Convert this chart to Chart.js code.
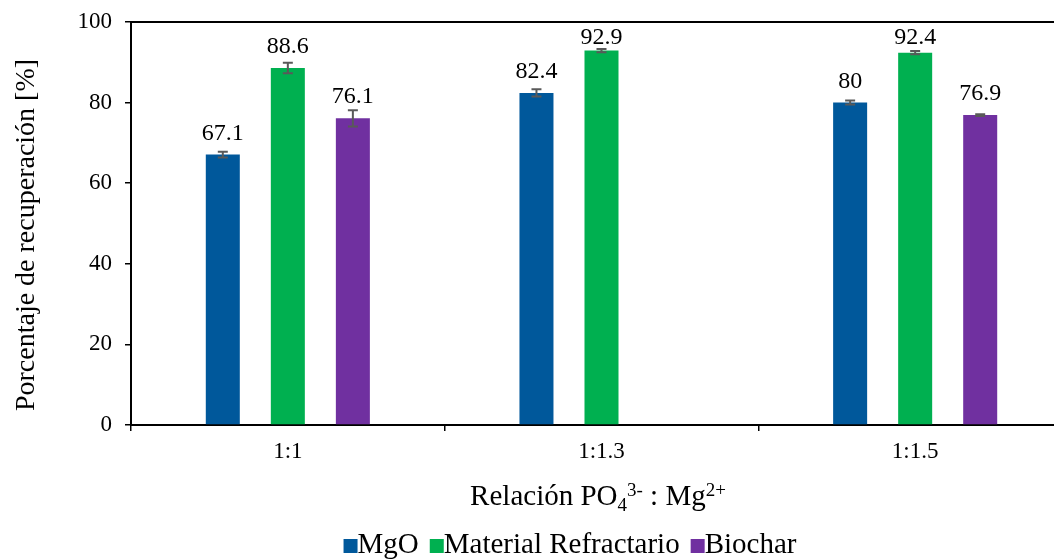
<!DOCTYPE html>
<html>
<head>
<meta charset="utf-8">
<script src="https://cdn.jsdelivr.net/npm/chart.js@4.4.1/dist/chart.umd.min.js"></script>
<style>
  html, body { margin: 0; padding: 0; background: #fff; }
  #wrap { width: 1054px; height: 559px; overflow: hidden; position: relative; }
  #c { display: block; }
</style>
</head>
<body>
<div id="wrap"><canvas id="c" width="1082" height="559"></canvas></div>
<script>
// Recovery percentage by PO4 : Mg molar ratio, three magnesium sources
const categories = ['1:1', '1:1.3', '1:1.5'];
const seriesNames = ['MgO', 'Material Refractario', 'Biochar'];
const mgo = [67.1, 82.4, 80];
const refractario = [88.6, 92.9, 92.4];
const biochar = [76.1, null, 76.9];
// standard deviations for the error bars
const mgoErr = [0.7, 0.9, 0.5];
const refractarioErr = [1.3, 0.4, 0.4];
const biocharErr = [2.0, null, 0.2];
const yTicks = [0, 20, 40, 60, 80, 100];

const colors = ['#00589B', '#00B050', '#7030A0'];
const errors = [mgoErr, refractarioErr, biocharErr];
const FONT = '"Liberation Serif", "Times New Roman", serif';

const decorations = {
  id: 'decorations',
  afterDatasetsDraw(chart) {
    const ctx = chart.ctx;
    const area = chart.chartArea;
    const y = chart.scales.y;

    // frame line along the top of the plot
    ctx.save();
    ctx.strokeStyle = '#000';
    ctx.lineWidth = 2;
    ctx.beginPath();
    ctx.moveTo(area.left, area.top);
    ctx.lineTo(area.right, area.top);
    ctx.stroke();
    ctx.restore();

    chart.data.datasets.forEach((ds, i) => {
      const meta = chart.getDatasetMeta(i);
      meta.data.forEach((bar, j) => {
        const v = ds.data[j];
        if (v === null || v === undefined) return;
        const e = errors[i][j];
        // error bar
        if (e) {
          const yt = y.getPixelForValue(v + e);
          const yb = y.getPixelForValue(v - e);
          ctx.save();
          ctx.strokeStyle = '#595959';
          ctx.lineWidth = 2;
          ctx.beginPath();
          ctx.moveTo(bar.x, yt); ctx.lineTo(bar.x, yb);
          ctx.moveTo(bar.x - 5, yt); ctx.lineTo(bar.x + 5, yt);
          ctx.moveTo(bar.x - 5, yb); ctx.lineTo(bar.x + 5, yb);
          ctx.stroke();
          ctx.restore();
        }
        // value label
        ctx.save();
        ctx.font = '24px ' + FONT;
        ctx.fillStyle = '#000';
        ctx.textAlign = 'center';
        ctx.textBaseline = 'alphabetic';
        const ly = Math.max(bar.y - 15, area.top + 22);
        ctx.fillText(String(v), bar.x, ly);
        ctx.restore();
      });
    });
  },
  afterDraw(chart) {
    const ctx = chart.ctx;
    ctx.save();
    ctx.fillStyle = '#000';

    // y axis title
    ctx.save();
    ctx.translate(34, 235);
    ctx.rotate(-Math.PI / 2);
    ctx.font = '28px ' + FONT;
    ctx.textAlign = 'center';
    ctx.textBaseline = 'alphabetic';
    ctx.fillText('Porcentaje de recuperación [%]', 0, 0);
    ctx.restore();

    // x axis title with sub/superscripts
    const parts = [
      { t: 'Relación PO', s: 29, dy: 0 },
      { t: '4', s: 19, dy: 6 },
      { t: '3-', s: 19, dy: -9 },
      { t: ' : Mg', s: 29, dy: 0 },
      { t: '2+', s: 19, dy: -9 }
    ];
    const widths = parts.map(p => {
      ctx.font = p.s + 'px ' + FONT;
      return ctx.measureText(p.t).width;
    });
    const total = widths.reduce((a, b) => a + b, 0);
    let x = 598 - total / 2;
    const base = 505;
    ctx.textBaseline = 'alphabetic';
    ctx.textAlign = 'left';
    parts.forEach((p, k) => {
      ctx.font = p.s + 'px ' + FONT;
      ctx.fillText(p.t, x, base + p.dy);
      x += widths[k];
    });

    // legend
    const lbase = 553;
    const sq = 14;
    const gap = 11;
    ctx.font = '29px ' + FONT;
    const tw = seriesNames.map(n => ctx.measureText(n).width);
    const lw = tw.reduce((a, b) => a + b, 0) + sq * 3 + gap * 2;
    let lx = 570 - lw / 2;
    seriesNames.forEach((n, k) => {
      ctx.fillStyle = colors[k];
      ctx.fillRect(lx, lbase - sq, sq, sq);
      ctx.fillStyle = '#000';
      ctx.fillText(n, lx + sq, lbase);
      lx += sq + tw[k] + gap;
    });
    ctx.restore();
  }
};

const makeSet = (k, data) => ({
  label: seriesNames[k],
  data: data,
  backgroundColor: colors[k],
  borderWidth: 0,
  barPercentage: 0.523,
  categoryPercentage: 0.622
});

new Chart(document.getElementById('c'), {
  type: 'bar',
  data: {
    labels: categories,
    datasets: [makeSet(0, mgo), makeSet(1, refractario), makeSet(2, biochar)]
  },
  options: {
    responsive: false,
    animation: false,
    events: [],
    layout: { padding: { left: 0, top: 22, right: 10, bottom: 0 } },
    plugins: { legend: { display: false }, tooltip: { enabled: false } },
    scales: {
      x: {
        grid: { display: true, drawOnChartArea: false, drawTicks: true, tickLength: 6, color: '#000', lineWidth: 1.5, offset: true },
        border: { display: true, color: '#000', width: 2 },
        ticks: { color: '#000', font: { family: FONT, size: 23 }, padding: 7 },
        afterFit(scale) { scale.height = 134; scale.paddingLeft = 0; scale.paddingRight = 0; }
      },
      y: {
        min: 0, max: 100,
        afterBuildTicks(scale) { scale.ticks = yTicks.map(v => ({ value: v })); },
        grid: { display: true, drawOnChartArea: false, drawTicks: true, tickLength: 6, color: '#000', lineWidth: 1.5 },
        border: { display: true, color: '#000', width: 2 },
        ticks: { color: '#000', font: { family: FONT, size: 23 }, padding: 13 },
        afterFit(scale) { scale.width = 131; scale.paddingTop = 0; scale.paddingBottom = 0; }
      }
    }
  },
  plugins: [decorations]
});
</script>
</body>
</html>
